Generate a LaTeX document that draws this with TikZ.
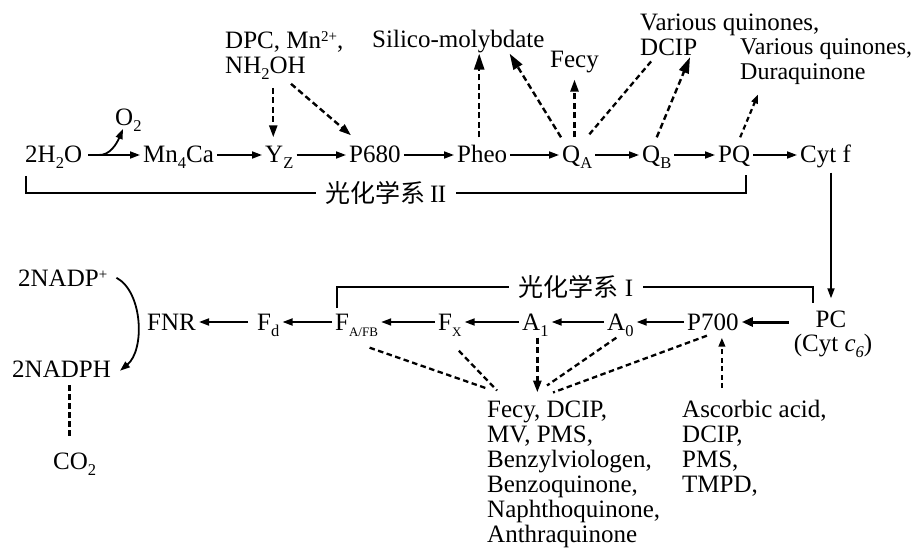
\documentclass[tikz,border=0pt]{standalone}
\usepackage{fontspec}
\setmainfont{Liberation Serif}
\newfontfamily\cjk{Noto Sans CJK SC}
\usetikzlibrary{arrows.meta}
\newcommand\sbs[1]{\raisebox{-6pt}{\fontsize{16.5}{16.5}\selectfont #1}}
\newcommand\sbsm[1]{\raisebox{-6pt}{\fontsize{13}{13}\selectfont #1}}
\newcommand\sps[1]{\raisebox{7pt}{\fontsize{15}{15}\selectfont #1}}
\begin{document}
\begin{tikzpicture}[x=1pt,y=-1pt,
  every node/.style={font=\fontsize{25}{25}\selectfont},
  rownode/.style={anchor=west,inner xsep=3pt,inner ysep=9pt,text height=16.5pt,text depth=0.5pt},
  lownode/.style={anchor=west,inner xsep=3pt,inner ysep=7pt,text height=16.5pt,text depth=0.5pt},
  txt/.style={anchor=base west,inner sep=0pt},
  lst/.style={anchor=north west,inner sep=0pt,align=left},
  arr/.style={line width=1.8pt,-{Triangle[length=10pt,width=7pt]}},
  thickarr/.style={line width=3pt,-{Triangle[length=11pt,width=9pt]}},
  darrL/.style={line width=2.4pt,dash pattern=on 6pt off 3.5pt,-{Triangle[length=16pt,width=10pt]}},
  darrM/.style={line width=2.4pt,dash pattern=on 6pt off 3.5pt,-{Triangle[length=12pt,width=8pt]}},
  darrS/.style={line width=2.2pt,dash pattern=on 5pt off 3.5pt,-{Triangle[length=9pt,width=6.5pt]}},
  dline/.style={line width=2.3pt,dash pattern=on 5.5pt off 3.5pt},
  brk/.style={line width=1.8pt},
  lbl/.style={inner xsep=10pt,inner ysep=0pt}
]
\useasboundingbox (0,0) rectangle (921,548);

% ---- top row (photosystem II chain)
\node[rownode] (h2o) at (22,155) {2H\sbs{2}O};
\node[rownode] (mn) at (140,155) {Mn\sbs{4}Ca};
\node[rownode] (yz) at (262,155) {Y\sbs{Z}};
\node[rownode] (p680) at (346,155) {P680};
\node[rownode] (pheo) at (454,155) {Pheo};
\node[rownode] (qa) at (559,155) {Q\sbs{A}};
\node[rownode] (qb) at (639,155) {Q\sbs{B}};
\node[rownode] (pq) at (715,155) {PQ};
\node[rownode] (cytf) at (797,155) {Cyt f};
\node[txt] (o2) at (115,126) {O\sbs{2}};

% ---- top labels
\node[lst] (dpc) at (225,31.5) {DPC, Mn\sps{2+},\\NH\sbs{2}OH};
\node[txt] (silico) at (372,48) {Silico-molybdate};
\node[txt] (fecy) at (550,68) {Fecy};
\node[lst] (vq1) at (640,14) {Various quinones,\\DCIP};
\node[lst,font=\fontsize{24}{25}\selectfont] (vq2) at (740,38) {Various quinones,\\Duraquinone};

% ---- photosystem labels
\node[lbl] (ps2) at (386,193) {{\cjk 光化学系}\,I\kern-0.5pt I};
\node[lbl] (ps1) at (576,287) {{\cjk 光化学系}\ I};

% ---- lower row (photosystem I chain)
\node[lownode] (fnr) at (144,322) {FNR};
\node[lownode] (fd) at (254,322) {F\sbs{d}};
\node[lownode] (fafb) at (332,322) {F\sbsm{A/FB}};
\node[lownode] (fx) at (435,322) {F\sbsm{X}};
\node[lownode] (a1) at (519,322) {A\sbs{1}};
\node[lownode] (a0) at (604,322) {A\sbs{0}};
\node[lownode] (p700) at (684,322) {P700};
\node[lownode,anchor=center,inner ysep=0pt] (pc) at (831,319) {PC};
\node[txt,anchor=base] (cytc) at (833,351) {(Cyt \textit{c}\sbs{\textit{6}})};

\node[txt] (nadp) at (18,287) {2NADP\sps{+}};
\node[txt] (nadph) at (12,377) {2NADPH};
\node[txt] (co2) at (53,469) {CO\sbs{2}};

\node[lst] (lst) at (487,400.5) {Fecy, DCIP,\\MV, PMS,\\Benzylviologen,\\Benzoquinone,\\Naphthoquinone,\\Anthraquinone};
\node[lst] (asc) at (682,400) {Ascorbic acid,\\DCIP,\\PMS,\\TMPD,};

% ---- coordinates
\coordinate (o2s) at (98,155);
\coordinate (o2t) at (123,129);
\coordinate (b2l) at (26,176);
\coordinate (b2r) at (746,175);
\coordinate (b1l) at (337,308);
\coordinate (b1r) at (813,303);
\coordinate (yzt) at ([xshift=-6pt]yz.north);
\coordinate (pht) at ([xshift=-3pt]pheo.north);
\coordinate (a1b) at ([xshift=2pt]a1.south);
\coordinate (p7b) at ([xshift=9pt]p700.south);
\coordinate (nb) at ([xshift=8pt]nadph.south);
\coordinate (pcw) at ([xshift=-24pt]pc.west);

% ---- main solid arrows
\draw[arr,shorten <=3pt] (h2o) -- (mn);
\draw[arr] (mn) -- (yz);
\draw[arr] (yz) -- (p680);
\draw[arr] (p680) -- (pheo);
\draw[arr] (pheo) -- (qa);
\draw[arr] (qa) -- (qb);
\draw[arr] (qb) -- (pq);
\draw[arr] (pq) -- (cytf);
\draw[arr] (o2s) .. controls (110,156) and (117,143) .. (o2t);
\draw[arr,shorten >=12pt] (cytf.south -| pc.north) -- (pc.north);

\draw[thickarr] (pcw |- p700.east) -- (p700.east);
\draw[arr] (p700) -- (a0);
\draw[arr] (a0) -- (a1);
\draw[arr] (a1) -- (fx);
\draw[arr] (fx) -- (fafb);
\draw[arr] (fafb) -- (fd);
\draw[arr,shorten <=6pt] (fd) -- (fnr);
\draw[arr] ([xshift=9pt,yshift=1pt]nadp.east) .. controls (143,292) and (145,350) .. ([xshift=9pt,yshift=-2pt]nadph.east);

% ---- brackets
\draw[brk] (b2l) |- (ps2.west);
\draw[brk] (ps2.east) -| (b2r);
\draw[brk] (b1l) |- (ps1.west);
\draw[brk] (ps1.east) -| (b1r);

% ---- dashed connectors, top
\draw[darrM,shorten <=8pt] (yzt |- dpc.south) -- (yzt);
\draw[darrM] ([xshift=66pt,yshift=-4pt]dpc.south west) -- ([xshift=5pt,yshift=2pt]p680.north west);
\draw[darrL] (pht) -- (pht |- silico.south);
\draw[darrL] ([xshift=2pt]qa.north west) -- ([xshift=-35pt]silico.south east);
\draw[darrM,shorten >=6pt] (qa.north -| fecy.south) -- (fecy.south);
\draw[dline] ([xshift=-6pt,yshift=3pt]qa.north east) -- ([xshift=13pt,yshift=-3pt]vq1.south west);
\draw[darrL] (qb.north) -- ([xshift=50pt,yshift=-1pt]vq1.south west);
\draw[darrS] ([xshift=6pt]pq.north) -- ([xshift=18pt,yshift=-10pt]vq2.south west);

% ---- dashed connectors, bottom
\draw[dline] ([xshift=13pt,yshift=-10pt]fafb.south) -- ([yshift=12pt]lst.north west);
\draw[dline] ([xshift=9pt,yshift=-13pt]fx.south) -- ([xshift=10pt,yshift=10pt]lst.north west);
\draw[darrM,line width=2.8pt,shorten >=8pt] (a1b) -- (a1b |- lst.north);
\draw[dline] ([xshift=-4pt]a0.south) -- ([xshift=60pt,yshift=15pt]lst.north west);
\draw[dline] ([xshift=-6pt,yshift=2pt]p700.south) -- ([xshift=66pt,yshift=8pt]lst.north west);
\draw[darrS,shorten <=12pt] (p7b |- asc.north) -- (p7b);
\draw[dline,shorten <=8pt,shorten >=13pt] (nb) -- (nb |- co2.north);
\end{tikzpicture}
\end{document}
